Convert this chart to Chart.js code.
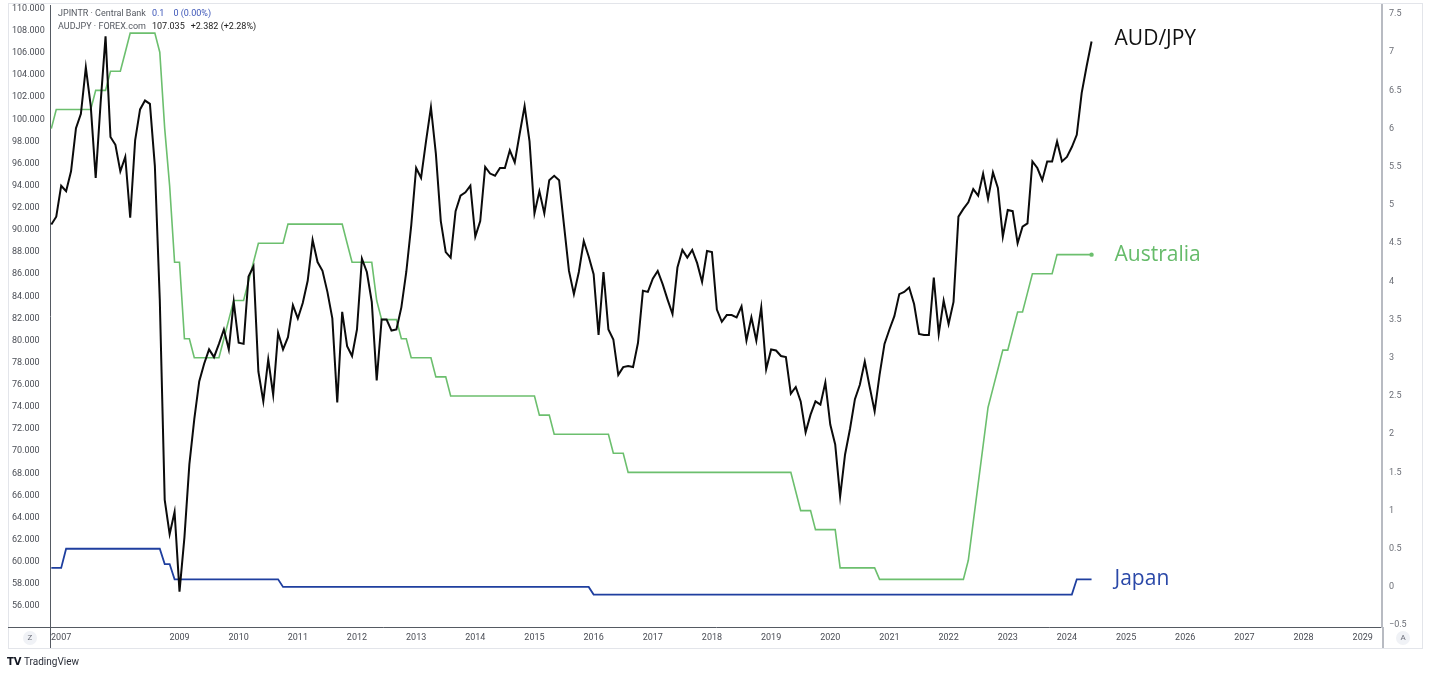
<!DOCTYPE html>
<html>
<head>
<meta charset="utf-8">
<script src="https://cdn.jsdelivr.net/npm/chart.js@4.4.1/dist/chart.umd.min.js"></script>
<style>
html,body{margin:0;padding:0;background:#fff;}
#wrap{width:1430px;height:674px;position:relative;}
</style>
</head>
<body>
<div id="wrap"><canvas id="c" width="1430" height="674"></canvas></div>
<script>
// ---- data (monthly closes, first observation Nov 2006, last Jun 2024) ----
const startYear = 2006;
const startMonth = 11;

const audjpy = [
  90.5, 91.2, 94.0, 93.5, 95.3, 99.2, 100.5, 104.7, 101.2, 94.7, 101.5, 107.5,
  98.4, 97.7, 95.3, 96.6, 91.1, 98.1, 100.9, 101.7, 101.4, 95.8, 83.7, 65.6,
  62.5, 64.5, 57.3, 62.2, 68.8, 72.9, 76.3, 77.9, 79.2, 78.5, 79.7, 81.0,
  79.2, 83.5, 79.8, 79.7, 85.8, 86.7, 77.2, 74.5, 78.3, 75.1, 80.7, 79.2,
  80.3, 83.2, 82.0, 83.4, 85.4, 89.1, 87.1, 86.3, 84.4, 82.0, 74.4, 82.6,
  79.5, 78.6, 81.0, 87.4, 86.2, 83.5, 76.4, 81.9, 81.9, 80.9, 81.0, 83.0,
  86.2, 90.4, 95.6, 94.7, 98.0, 101.1, 96.9, 90.8, 88.0, 87.5, 91.7, 93.1,
  93.4, 94.0, 89.4, 90.8, 95.7, 95.1, 94.9, 95.6, 95.6, 97.2, 96.1, 98.7,
  101.2, 98.0, 91.5, 93.5, 91.5, 94.5, 94.9, 94.5, 90.4, 86.3, 84.2, 86.2,
  89.0, 87.6, 86.0, 80.5, 86.2, 81.0, 80.1, 76.9, 77.6, 77.7, 77.6, 79.8,
  84.5, 84.4, 85.6, 86.3, 85.1, 83.7, 82.4, 86.6, 88.2, 87.5, 88.2, 87.0,
  85.3, 88.1, 88.0, 82.8, 81.7, 82.3, 82.3, 82.1, 83.1, 80.0, 82.1, 80.0,
  83.0, 77.4, 79.2, 79.1, 78.6, 78.5, 75.2, 75.8, 74.5, 71.7, 73.3, 74.5,
  74.2, 76.2, 72.4, 70.6, 65.9, 69.7, 72.0, 74.7, 76.0, 78.1, 75.8, 73.6,
  76.9, 79.7, 81.0, 82.2, 84.2, 84.4, 84.8, 83.3, 80.6, 80.5, 80.5, 85.7,
  80.6, 83.6, 81.5, 83.5, 91.2, 91.9, 92.5, 93.7, 93.1, 95.1, 92.8, 95.2,
  93.8, 89.4, 91.8, 91.7, 88.8, 90.3, 90.6, 96.2, 95.6, 94.5, 96.2, 96.2,
  98.0, 96.2, 96.6, 97.5, 98.6, 102.4, 104.8, 107.035
];

const australiaRate = [
  6.0, 6.25, 6.25, 6.25, 6.25, 6.25, 6.25, 6.25, 6.25, 6.5, 6.5, 6.5,
  6.75, 6.75, 6.75, 7.0, 7.25, 7.25, 7.25, 7.25, 7.25, 7.25, 7.0, 6.0,
  5.25, 4.25, 4.25, 3.25, 3.25, 3.0, 3.0, 3.0, 3.0, 3.0, 3.0, 3.25,
  3.5, 3.75, 3.75, 3.75, 4.0, 4.25, 4.5, 4.5, 4.5, 4.5, 4.5, 4.5,
  4.75, 4.75, 4.75, 4.75, 4.75, 4.75, 4.75, 4.75, 4.75, 4.75, 4.75, 4.75,
  4.5, 4.25, 4.25, 4.25, 4.25, 4.25, 3.75, 3.5, 3.5, 3.5, 3.5, 3.25,
  3.25, 3.0, 3.0, 3.0, 3.0, 3.0, 2.75, 2.75, 2.75, 2.5, 2.5, 2.5,
  2.5, 2.5, 2.5, 2.5, 2.5, 2.5, 2.5, 2.5, 2.5, 2.5, 2.5, 2.5,
  2.5, 2.5, 2.5, 2.25, 2.25, 2.25, 2.0, 2.0, 2.0, 2.0, 2.0, 2.0,
  2.0, 2.0, 2.0, 2.0, 2.0, 2.0, 1.75, 1.75, 1.75, 1.5, 1.5, 1.5,
  1.5, 1.5, 1.5, 1.5, 1.5, 1.5, 1.5, 1.5, 1.5, 1.5, 1.5, 1.5,
  1.5, 1.5, 1.5, 1.5, 1.5, 1.5, 1.5, 1.5, 1.5, 1.5, 1.5, 1.5,
  1.5, 1.5, 1.5, 1.5, 1.5, 1.5, 1.5, 1.25, 1.0, 1.0, 1.0, 0.75,
  0.75, 0.75, 0.75, 0.75, 0.25, 0.25, 0.25, 0.25, 0.25, 0.25, 0.25, 0.25,
  0.1, 0.1, 0.1, 0.1, 0.1, 0.1, 0.1, 0.1, 0.1, 0.1, 0.1, 0.1,
  0.1, 0.1, 0.1, 0.1, 0.1, 0.1, 0.35, 0.85, 1.35, 1.85, 2.35, 2.6,
  2.85, 3.1, 3.1, 3.35, 3.6, 3.6, 3.85, 4.1, 4.1, 4.1, 4.1, 4.1,
  4.35, 4.35, 4.35, 4.35, 4.35, 4.35, 4.35, 4.35
];

const japanRate = [
  0.25, 0.25, 0.25, 0.5, 0.5, 0.5, 0.5, 0.5, 0.5, 0.5, 0.5, 0.5,
  0.5, 0.5, 0.5, 0.5, 0.5, 0.5, 0.5, 0.5, 0.5, 0.5, 0.5, 0.3,
  0.3, 0.1, 0.1, 0.1, 0.1, 0.1, 0.1, 0.1, 0.1, 0.1, 0.1, 0.1,
  0.1, 0.1, 0.1, 0.1, 0.1, 0.1, 0.1, 0.1, 0.1, 0.1, 0.1, 0,
  0, 0, 0, 0, 0, 0, 0, 0, 0, 0, 0, 0,
  0, 0, 0, 0, 0, 0, 0, 0, 0, 0, 0, 0,
  0, 0, 0, 0, 0, 0, 0, 0, 0, 0, 0, 0,
  0, 0, 0, 0, 0, 0, 0, 0, 0, 0, 0, 0,
  0, 0, 0, 0, 0, 0, 0, 0, 0, 0, 0, 0,
  0, 0, -0.1, -0.1, -0.1, -0.1, -0.1, -0.1, -0.1, -0.1, -0.1, -0.1,
  -0.1, -0.1, -0.1, -0.1, -0.1, -0.1, -0.1, -0.1, -0.1, -0.1, -0.1, -0.1,
  -0.1, -0.1, -0.1, -0.1, -0.1, -0.1, -0.1, -0.1, -0.1, -0.1, -0.1, -0.1,
  -0.1, -0.1, -0.1, -0.1, -0.1, -0.1, -0.1, -0.1, -0.1, -0.1, -0.1, -0.1,
  -0.1, -0.1, -0.1, -0.1, -0.1, -0.1, -0.1, -0.1, -0.1, -0.1, -0.1, -0.1,
  -0.1, -0.1, -0.1, -0.1, -0.1, -0.1, -0.1, -0.1, -0.1, -0.1, -0.1, -0.1,
  -0.1, -0.1, -0.1, -0.1, -0.1, -0.1, -0.1, -0.1, -0.1, -0.1, -0.1, -0.1,
  -0.1, -0.1, -0.1, -0.1, -0.1, -0.1, -0.1, -0.1, -0.1, -0.1, -0.1, -0.1,
  -0.1, -0.1, -0.1, -0.1, 0.1, 0.1, 0.1, 0.1
];

const yearTicks = [2007, 2009, 2010, 2011, 2012, 2013, 2014, 2015, 2016, 2017, 2018,
  2019, 2020, 2021, 2022, 2023, 2024, 2025, 2026, 2027, 2028, 2029];
const leftTicks = [56, 58, 60, 62, 64, 66, 68, 70, 72, 74, 76, 78, 80, 82, 84, 86, 88, 90,
  92, 94, 96, 98, 100, 102, 104, 106, 108, 110];
const rightTicks = [-0.5, 0, 0.5, 1, 1.5, 2, 2.5, 3, 3.5, 4, 4.5, 5, 5.5, 6, 6.5, 7, 7.5];

const seriesNames = ['AUD/JPY', 'Australia', 'Japan'];
const legendLines = [
  ['JPINTR · Central Bank', '0.1', '0 (0.00%)'],
  ['AUDJPY · FOREX.com', '107.035', '+2.382 (+2.28%)']
];

// ---- build ----
const monthX = audjpy.map((_, i) => startYear + (startMonth - 1 + i) / 12);
const pts = arr => arr.map((v, i) => ({ x: monthX[i], y: v }));
const lastIdx = audjpy.length - 1;

const COL_BLACK = '#0b0b0b', COL_GREEN = '#6cbf6e', COL_BLUE = '#1f3f9f';
const TICK_FONT = { family: 'Roboto, "Liberation Sans", sans-serif', size: 9 };

const overlay = {
  id: 'overlay',
  beforeDraw(chart) {
    const ctx = chart.ctx;
    ctx.save();
    ctx.fillStyle = '#ffffff';
    ctx.fillRect(0, 0, chart.width, chart.height);
    ctx.restore();
  },
  afterDatasetsDraw(chart) {
    const ctx = chart.ctx;
    const xs = chart.scales.x, yl = chart.scales.yL, yr = chart.scales.yR;
    const lx = xs.getPixelForValue(monthX[lastIdx]) + 23;
    ctx.save();
    ctx.font = '21px "Open Sans", sans-serif';
    ctx.textBaseline = 'middle';
    ctx.textAlign = 'left';
    ctx.fillStyle = '#111111';
    ctx.fillText(seriesNames[0], lx, yl.getPixelForValue(audjpy[lastIdx]) - 3);
    ctx.fillStyle = '#66bb6a';
    ctx.fillText(seriesNames[1], lx, yr.getPixelForValue(australiaRate[lastIdx]));
    ctx.fillStyle = '#2a48a8';
    ctx.fillText(seriesNames[2], lx, yr.getPixelForValue(japanRate[lastIdx]));
    ctx.restore();
  },
  afterDraw(chart) {
    const ctx = chart.ctx;
    const a = chart.chartArea;
    ctx.save();
    // outer frame
    ctx.strokeStyle = '#e3e5ea';
    ctx.lineWidth = 1;
    ctx.strokeRect(8.5, 3.5, 1414, 645);
    // extend borders
    ctx.strokeStyle = '#555a62';
    ctx.beginPath();
    ctx.moveTo(8, Math.round(a.bottom) + 0.5); ctx.lineTo(a.left, Math.round(a.bottom) + 0.5);
    ctx.moveTo(Math.round(a.left) + 0.5, a.bottom); ctx.lineTo(Math.round(a.left) + 0.5, 648);
    ctx.stroke();
    ctx.strokeStyle = '#b8bbc2';
    ctx.lineWidth = 2;
    ctx.beginPath();
    ctx.moveTo(a.right + 1, a.bottom); ctx.lineTo(a.right + 1, 648);
    ctx.stroke();
    // legend lines
    ctx.font = '9px Roboto, "Liberation Sans", sans-serif';
    ctx.textBaseline = 'middle';
    ctx.textAlign = 'left';
    const ly = [14, 27];
    const gaps = [[6, 9], [6, 6]];
    const valCol = ['#3d56b8', '#222222'];
    legendLines.forEach((line, r) => {
      let x = 58;
      ctx.fillStyle = '#555961';
      ctx.fillText(line[0], x, ly[r]);
      x += ctx.measureText(line[0]).width + gaps[r][0];
      ctx.fillStyle = valCol[r];
      ctx.fillText(line[1], x, ly[r]);
      x += ctx.measureText(line[1]).width + gaps[r][1];
      ctx.fillText(line[2], x, ly[r]);
    });
    // Z / A buttons
    ctx.fillStyle = '#f0f2f6';
    ctx.beginPath(); ctx.arc(30, 638, 7, 0, Math.PI * 2); ctx.fill();
    ctx.beginPath(); ctx.arc(1403, 638, 7, 0, Math.PI * 2); ctx.fill();
    ctx.fillStyle = '#6a6d78';
    ctx.font = '8px Roboto, sans-serif';
    ctx.textAlign = 'center';
    ctx.fillText('Z', 30, 638);
    ctx.fillText('A', 1403, 638);
    // TradingView mark
    ctx.textAlign = 'left';
    ctx.fillStyle = '#131722';
    ctx.font = 'bold 10px "DejaVu Sans", sans-serif';
    ctx.fillText('TV', 7, 662);
    ctx.font = '10px Roboto, sans-serif';
    ctx.fillStyle = '#2a2e39';
    ctx.fillText('TradingView', 24, 662);
    ctx.restore();
  }
};

new Chart(document.getElementById('c'), {
  type: 'line',
  data: {
    datasets: [
      {
        label: 'AUDJPY', data: pts(audjpy), yAxisID: 'yL', order: 0,
        borderColor: COL_BLACK, borderWidth: 2, pointRadius: 0, tension: 0
      },
      {
        label: 'Australia', data: pts(australiaRate), yAxisID: 'yR', order: 1,
        borderColor: COL_GREEN, backgroundColor: COL_GREEN, borderWidth: 1.6, tension: 0,
        pointRadius: c => (c.dataIndex === lastIdx ? 2.2 : 0), pointBorderWidth: 0
      },
      {
        label: 'Japan', data: pts(japanRate), yAxisID: 'yR', order: 2,
        borderColor: COL_BLUE, borderWidth: 1.8, pointRadius: 0, tension: 0
      }
    ]
  },
  options: {
    responsive: false,
    animation: false,
    devicePixelRatio: 1,
    layout: { padding: { left: 12, right: 8, top: 5, bottom: 26 } },
    plugins: { legend: { display: false }, tooltip: { enabled: false } },
    scales: {
      x: {
        type: 'linear', position: 'bottom',
        min: 2006.811, max: 2029.326,
        afterFit: s => { s.height = 21; s.paddingLeft = 0; s.paddingRight = 0; },
        afterBuildTicks: s => { s.ticks = yearTicks.map(v => ({ value: v })); },
        grid: { display: false, drawTicks: false },
        border: { display: true, color: '#555a62', width: 1 },
        ticks: {
          color: '#4a4d55', font: TICK_FONT, padding: 5, maxRotation: 0, autoSkip: false,
          callback: v => String(v)
        }
      },
      yL: {
        type: 'linear', position: 'left',
        min: 54.10, max: 110.34,
        afterFit: s => { s.width = 38; s.paddingTop = 0; s.paddingBottom = 0; },
        afterBuildTicks: s => { s.ticks = leftTicks.map(v => ({ value: v })); },
        grid: { display: false, drawTicks: false },
        border: { display: true, color: '#555a62', width: 1 },
        ticks: {
          color: '#4a4d55', font: TICK_FONT, crossAlign: 'far', padding: 4, autoSkip: false,
          callback: v => v.toFixed(3)
        }
      },
      yR: {
        type: 'linear', position: 'right',
        min: -0.524, max: 7.618,
        afterFit: s => { s.width = 40; s.paddingTop = 0; s.paddingBottom = 0; },
        afterBuildTicks: s => { s.ticks = rightTicks.map(v => ({ value: v })); },
        grid: { display: false, drawTicks: false },
        border: { display: true, color: '#b8bbc2', width: 2 },
        ticks: {
          color: '#6b6e76', font: TICK_FONT, crossAlign: 'near', padding: 7, autoSkip: false,
          callback: v => (v < 0 ? '\u2212' + Math.abs(v) : String(v))
        }
      }
    }
  },
  plugins: [overlay]
});
</script>
</body>
</html>
